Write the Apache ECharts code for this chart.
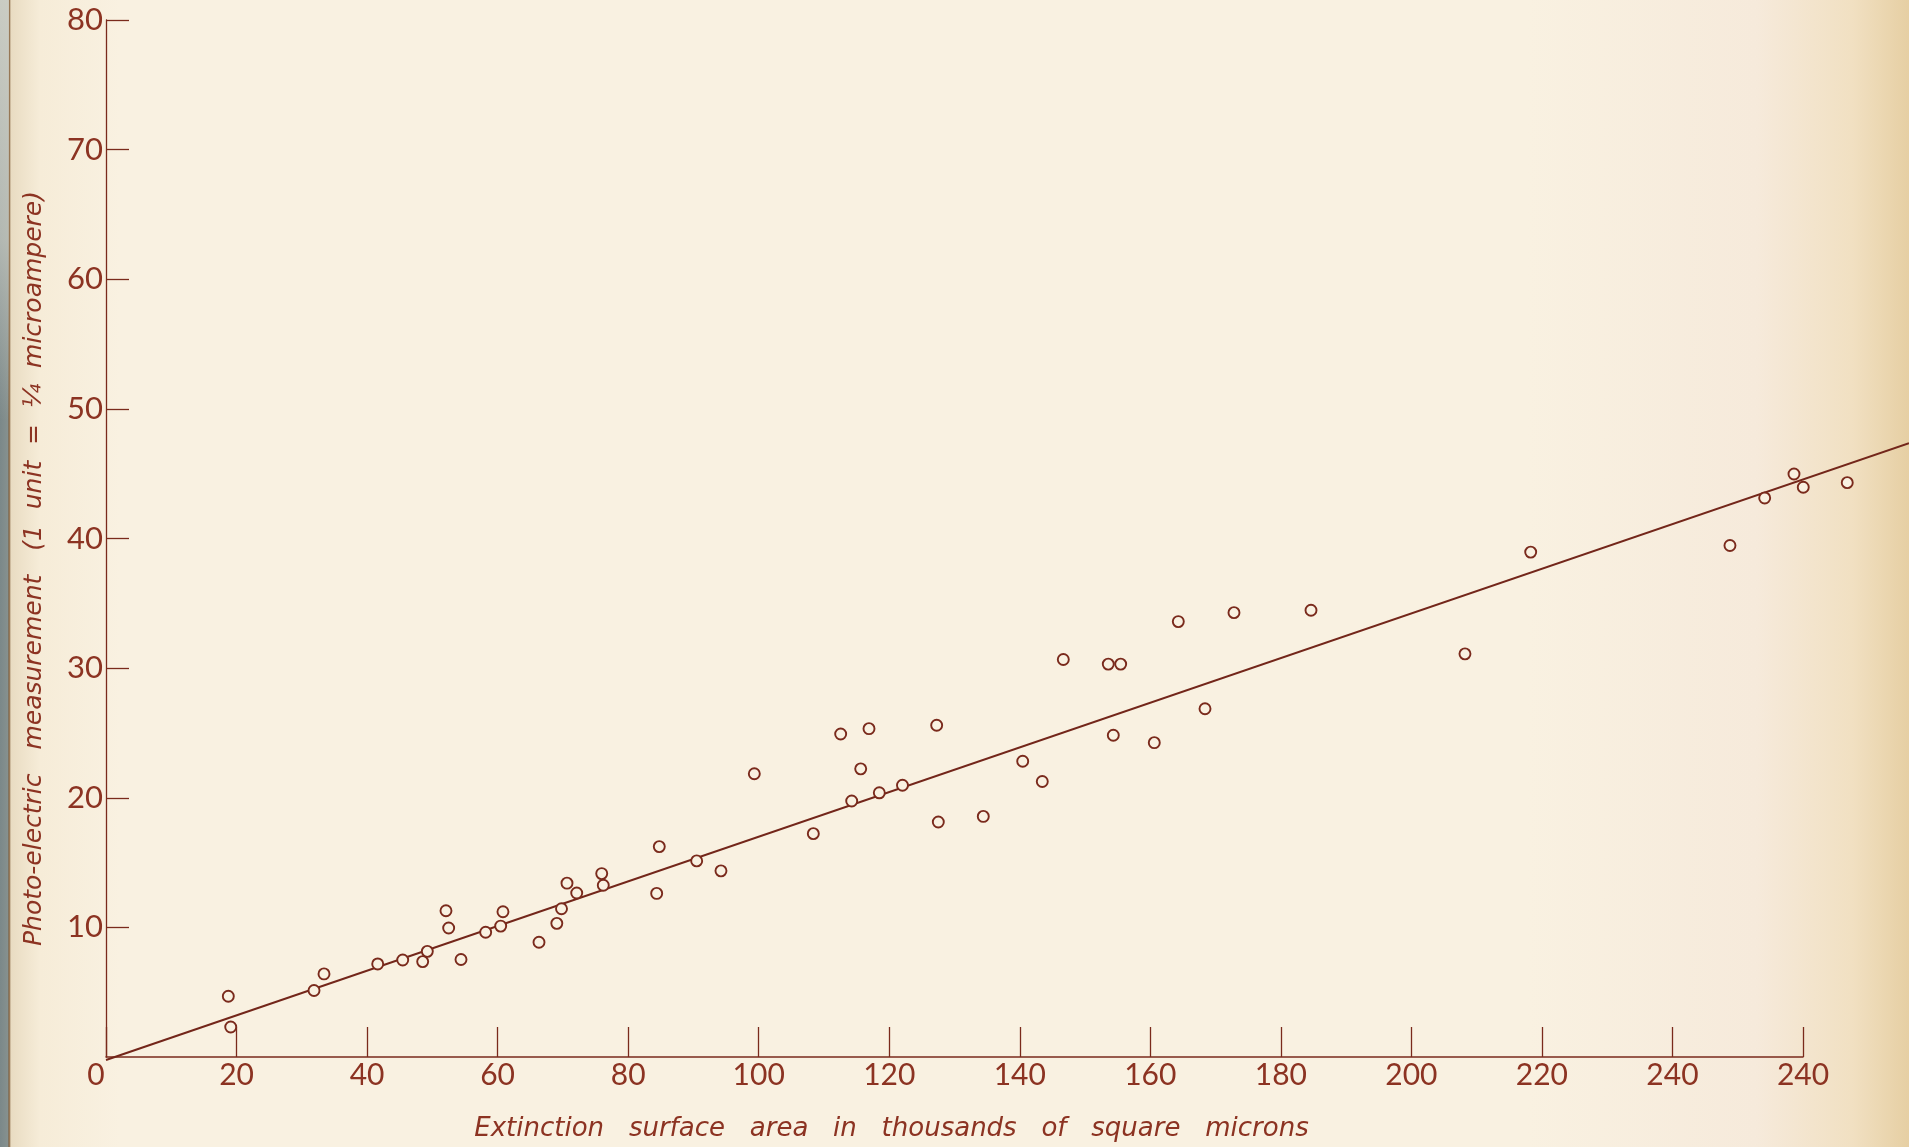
<!DOCTYPE html>
<html>
<head>
<meta charset="utf-8">
<script src="https://cdn.jsdelivr.net/npm/echarts@6/dist/echarts.min.js"></script>
<style>
  html, body { margin: 0; padding: 0; width: 1909px; height: 1147px; overflow: hidden; }
  body {
    background:
      linear-gradient(to bottom, rgba(215,215,205,0.85) 0, rgba(215,215,205,0.6) 240px, rgba(0,0,0,0) 420px) left top / 9px 100% no-repeat,
      linear-gradient(to right, #7b8889 0, #86918f 8px, #7a5632 9px, #e9dcc2 11px, #f6ecd8 40px, #f9f1e1 120px, #f9f1e1 80%, #f6eadb 92%, #f1e0c2 97%, #e6cfa3 100%);
  }
  #chart { width: 1909px; height: 1147px; }
</style>
</head>
<body>
<div id="chart"></div>
<script>
// x values (thousands of square microns) and y values (photo-electric units)
var pointX = [18.74, 19.11, 31.87, 33.40, 41.63, 45.46, 48.52, 49.23, 52.09, 52.50,
              54.39, 58.17, 60.47, 60.82, 66.34, 69.07, 69.79, 70.63, 72.12, 75.95,
              76.19, 84.77, 84.37, 90.50, 94.22, 99.33, 108.37, 112.56, 114.25, 115.63,
              116.90, 118.48, 122.03, 127.27, 127.52, 134.41, 140.45, 143.45, 146.67, 153.56,
              155.46, 154.33, 160.61, 164.29, 168.38, 172.82, 184.62, 208.21, 218.28, 248.81,
              254.13, 258.62, 260.04, 266.78];
var pointY = [4.69, 2.31, 5.13, 6.41, 7.18, 7.48, 7.36, 8.15, 11.28, 9.95,
              7.52, 9.62, 10.10, 11.21, 8.85, 10.31, 11.44, 13.41, 12.65, 14.15,
              13.25, 16.23, 12.62, 15.13, 14.36, 21.85, 17.23, 24.92, 19.75, 22.23,
              25.33, 20.38, 20.96, 25.59, 18.13, 18.56, 22.82, 21.25, 30.67, 30.31,
              30.31, 24.82, 24.25, 33.59, 26.87, 34.28, 34.46, 31.10, 38.95, 39.46,
              43.13, 44.98, 43.95, 44.31];
// fitted straight line through the origin, running to the page edge
var lineX = [0, 276.2];
var lineY = [0, 47.44];
// tick labels as printed on the original (last one printed "240")
var xTickLabels = ['0', '20', '40', '60', '80', '100', '120', '140', '160', '180', '200', '220', '240', '240'];
var yTickLabels = ['0', '10', '20', '30', '40', '50', '60', '70', '80'];

var ink = '#7a2a1c';
var textInk = '#8c3322';
var paper = '#f9f1e1';

var scatterData = pointX.map(function (x, i) { return [x, pointY[i]]; });
var lineData = lineX.map(function (x, i) { return [x, lineY[i]]; });

var chart = echarts.init(document.getElementById('chart'));
chart.setOption({
  backgroundColor: 'transparent',
  animation: false,
  grid: [
    { left: 106, right: 106, top: 20, bottom: 87, containLabel: false },
    // same scale, extended to the right page edge for the fitted line
    { left: 106, right: 0, top: 20, bottom: 87, containLabel: false }
  ],
  xAxis: [{
    type: 'value', gridIndex: 0, min: 0, max: 260, interval: 20,
    name: 'Extinction   surface   area   in   thousands   of   square   microns',
    nameLocation: 'middle', nameGap: 59,
    nameTextStyle: { color: textInk, fontFamily: 'DejaVu Sans', fontStyle: 'italic', fontSize: 26, padding: [0, 126, 0, 0] },
    axisLine: { show: true, lineStyle: { color: ink, width: 1.5 } },
    axisTick: { show: true, inside: true, length: 30, lineStyle: { color: ink, width: 1.3 } },
    splitLine: { show: false },
    axisLabel: {
      color: textInk, fontFamily: 'Lato', fontSize: 30, margin: 3,
      showMinLabel: true, showMaxLabel: true,
      formatter: function (v) {
        var s = xTickLabels[Math.round(v / 20)];
        return v === 0 ? '{z|' + s + '}' : s;
      },
      rich: { z: { color: textInk, fontFamily: 'Lato', fontSize: 30, padding: [0, 20, 12, 0] } }
    }
  }, {
    type: 'value', gridIndex: 1, min: 0, max: 276.2, show: false
  }],
  yAxis: [{
    type: 'value', gridIndex: 0, min: 0, max: 80, interval: 10,
    name: 'Photo-electric   measurement   (1  unit  =  ¼  microampere)',
    nameLocation: 'middle', nameGap: 59, nameRotate: 90,
    nameTextStyle: { color: textInk, fontFamily: 'DejaVu Sans', fontStyle: 'italic', fontSize: 25, padding: [0, 60, 0, 0] },
    axisLine: { show: true, lineStyle: { color: ink, width: 1.3 } },
    axisTick: { show: true, inside: true, length: 23, lineStyle: { color: ink, width: 1.3 } },
    splitLine: { show: false },
    axisLabel: {
      color: textInk, fontFamily: 'Lato', fontSize: 31, margin: 3,
      showMinLabel: false,
      formatter: function (v) { return v === 0 ? '' : yTickLabels[Math.round(v / 10)]; }
    }
  }, {
    type: 'value', gridIndex: 1, min: 0, max: 80, show: false
  }],
  series: [
    {
      type: 'line', xAxisIndex: 1, yAxisIndex: 1, data: lineData, symbol: 'none', z: 2,
      lineStyle: { color: '#73261a', width: 2 }
    },
    {
      type: 'scatter', xAxisIndex: 0, yAxisIndex: 0, data: scatterData, clip: false, symbol: 'circle', symbolSize: 11, z: 3,
      itemStyle: { color: paper, borderColor: ink, borderWidth: 1.9, opacity: 1 }
    }
  ]
});
</script>
</body>
</html>
